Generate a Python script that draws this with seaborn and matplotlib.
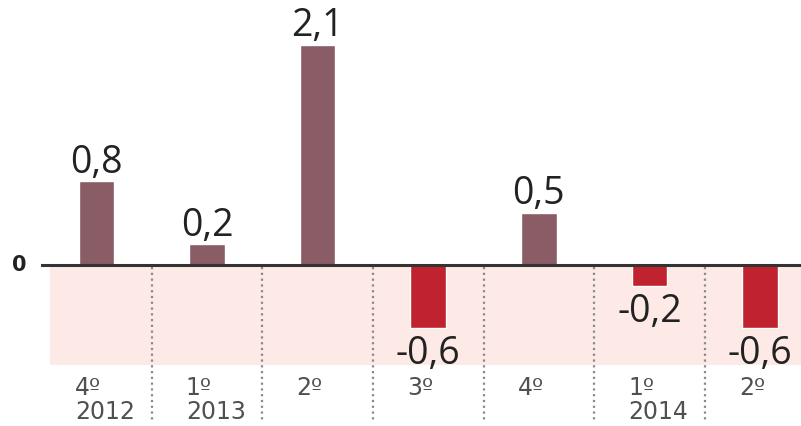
import matplotlib
matplotlib.use("Agg")
import matplotlib.pyplot as plt
import seaborn as sns
import pandas as pd

# Quarterly change (%), 4th quarter 2012 to 2nd quarter 2014
quarters = ["4º", "1º", "2º", "3º", "4º", "1º", "2º"]
years = ["2012", "2013", "", "", "", "2014", ""]
values = [0.8, 0.2, 2.1, -0.6, 0.5, -0.2, -0.6]
value_labels = ["0,8", "0,2", "2,1", "-0,6", "0,5", "-0,2", "-0,6"]

POS_COLOR = "#8a5c65"
NEG_COLOR = "#c0222f"
SHADE = "#fde9e5"
TEXT = "#222222"
TICK_TEXT = "#505050"

sns.set_theme(style="white")
plt.rcParams["font.family"] = ["Open Sans", "DejaVu Sans"]

keys = [f"{q} {y}".strip() + f"#{i}" for i, (q, y) in enumerate(zip(quarters, years))]
df = pd.DataFrame({
    "key": keys,
    "value": values,
    "sign": ["pos" if v >= 0 else "neg" for v in values],
})

fig = plt.figure(figsize=(8.01, 4.26), dpi=100)
ax = fig.add_axes([41 / 801, 0, 760 / 801, 1])

# shaded band below zero
ax.axhspan(-0.952, -0.02, xmin=0.08 / 6.87, xmax=1, color=SHADE, zorder=0, lw=0)

sns.barplot(data=df, x="key", y="value", hue="sign", order=keys,
            palette={"pos": POS_COLOR, "neg": NEG_COLOR}, dodge=False,
            width=0.32, saturation=1, legend=False, ax=ax, zorder=2)

ax.set_xlim(-0.5, 6.37)
ax.set_ylim(-1.533, 2.524)

# zero line
ax.axhline(0, color="#333333", lw=2.2, zorder=3)

# dotted separators between quarters
for i in range(6):
    ax.plot([i + 0.5, i + 0.5], [-0.02, -1.49], color="#8a8a8a", lw=1.6,
            linestyle=(0, (1, 1.6)), zorder=1)

# value labels
for i, (v, lab) in enumerate(zip(values, value_labels)):
    if v >= 0:
        ax.text(i, v + 0.08, lab, ha="center", va="baseline", fontsize=27,
                color=TEXT, zorder=4)
    else:
        ax.text(i, v - 0.07, lab, ha="center", va="top", fontsize=27,
                color=TEXT, zorder=4)

# category labels
for i, (q, y) in enumerate(zip(quarters, years)):
    ax.text(i - 0.19, -1.17, q, ha="left", va="center", fontsize=17,
            color=TICK_TEXT, family=["DejaVu Sans"])
    if y:
        ax.text(i - 0.19, -1.40, y, ha="left", va="center", fontsize=17,
                color=TICK_TEXT, family=["DejaVu Sans"])

ax.text(-0.76, 0, "0", ha="left", va="center", fontsize=15, fontweight="bold",
        color="#222222", clip_on=False, family=["DejaVu Sans"])

ax.set_xticks([])
ax.set_yticks([])
ax.set_xlabel("")
ax.set_ylabel("")
for s in ax.spines.values():
    s.set_visible(False)

fig.savefig("out.png", dpi=100)
